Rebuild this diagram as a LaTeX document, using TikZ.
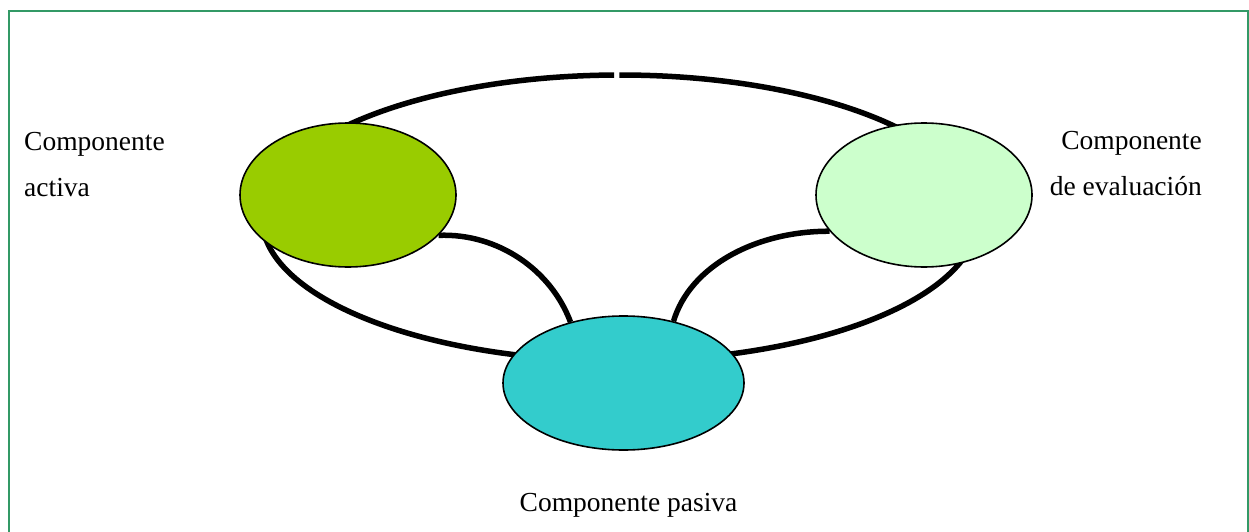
\documentclass[tikz,border=0pt]{standalone}
\usepackage{fontspec}
\setmainfont{Liberation Serif}
\usetikzlibrary{shapes.geometric}
\pgfdeclarelayer{bg}
\pgfsetlayers{bg,main}
\definecolor{framegreen}{RGB}{51,153,102}
\definecolor{activecol}{RGB}{153,204,0}
\definecolor{evalcol}{RGB}{204,255,204}
\definecolor{passivecol}{RGB}{51,204,204}
\tikzset{
  blob/.style={ellipse, draw=black, line width=1.6pt, inner sep=0pt},
  thickline/.style={line width=5.5pt, black},
  framebox/.style={draw=framegreen, line width=2pt},
  lbl/.style={inner sep=0pt, font=\fontsize{27.5}{33}\selectfont}
}
\begin{document}
\begin{tikzpicture}[x=1pt,y=-1pt]
\useasboundingbox (0,0) rectangle (1249,532);
\clip (0,0) rectangle (1249,532);
% frame
\draw[framebox] (9,545) -- (9,11) -- (1247.5,11) -- (1247.5,545);
% component ellipses
\node[blob, fill=activecol, minimum width=216pt, minimum height=144pt] (act) at (348,195) {};
\node[blob, fill=evalcol, minimum width=216pt, minimum height=144pt] (eva) at (924,195) {};
\node[blob, fill=passivecol, minimum width=241pt, minimum height=134pt] (pas) at (623.5,383) {};
\begin{pgfonlayer}{bg}
  \fill[white] (0,0) rectangle (1249,532);
  % outer ring in two halves with a gap at the top
  \coordinate (ringc) at (620,218);
  \draw[thickline] (ringc) ++(269.05:358 and 143) arc[start angle=269.05, end angle=90, x radius=358, y radius=143];
  \draw[thickline] (ringc) ++(269.9:358 and 143) arc[start angle=269.9, end angle=450, x radius=358, y radius=143];
  % inner connectors
  \draw[thickline] (act.-24) .. controls (498,233) and (551,270) .. (pas.131);
  \draw[thickline] (eva.201) .. controls (756,231) and (690,266) .. (pas.51);
\end{pgfonlayer}
% labels
\node[lbl, anchor=base west] (la1) at (24,150) {Componente};
\node[lbl, anchor=base west] (la2) at (24,196) {activa};
\node[lbl, anchor=base east] (le1) at (1202,149) {Componente};
\node[lbl, anchor=base east] (le2) at (1202,195) {de evaluación};
\node[lbl, anchor=base] (lp) at (628.5,511) {Componente pasiva};
\end{tikzpicture}
\end{document}
